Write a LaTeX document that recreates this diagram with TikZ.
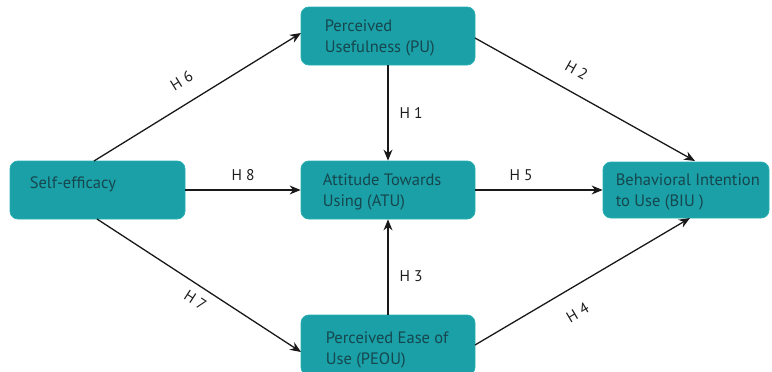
\documentclass[tikz,border=0pt]{standalone}
\usepackage{fontspec}
\setmainfont{PT Sans}
\usetikzlibrary{arrows.meta,calc}
\definecolor{boxfill}{RGB}{26,160,166}
\definecolor{boxline}{RGB}{40,175,180}
\definecolor{boxtext}{RGB}{22,70,78}
\definecolor{labtext}{RGB}{30,30,30}
\tikzset{
  box/.style={draw=boxline, line width=0.8pt, fill=boxfill, rounded corners=8pt, inner sep=0pt},
  txt/.style={anchor=west, align=left, text=boxtext, font=\fontsize{16.5}{21}\selectfont, inner sep=0pt},
  conn/.style={line width=1.3pt, draw=black!90, -{Stealth[length=11pt,width=9pt]}},
  hlab/.style={text=labtext, font=\fontsize{15.5}{17}\selectfont, inner sep=1pt}
}
\begin{document}
\begin{tikzpicture}[x=1pt,y=-1pt]
\useasboundingbox (0,0) rectangle (772,372);
% boxes
\node[box, minimum width=175, minimum height=58] (se) at (97.5,190) {};
\node[box, minimum width=174, minimum height=58] (pu) at (388,36) {};
\node[box, minimum width=174, minimum height=58] (atu) at (388,190) {};
\node[box, minimum width=166, minimum height=56] (biu) at (686,190) {};
\node[box, minimum width=174, minimum height=60] (peou) at (388,345) {};
% texts
\node[txt] (setext) at ($(se.west)+(20,-6)$) {Self-efficacy};
\node[txt] (putext) at ($(pu.west)+(24,2)$) {Perceived\\Usefulness (PU)};
\node[txt] (atutext) at ($(atu.west)+(22,2)$) {Attitude Towards\\Using (ATU)};
\node[txt] (biutext) at ($(biu.west)+(13,2)$) {Behavioral Intention\\to Use (BIU )};
\node[txt] (peoutext) at ($(peou.west)+(25,5)$) {Perceived Ease of\\Use (PEOU)};
% coordinates
\coordinate (se1) at (94,161);
\coordinate (se2) at (97,219);
\coordinate (pu1) at (301,33);
\coordinate (pu2) at (475,38);
\coordinate (biu1) at (695,161);
\coordinate (biu2) at (690,218);
\coordinate (peou1) at (301,352);
\coordinate (peou2) at (475,345);
% connectors
\draw[conn] (se1) -- (pu1) node[hlab, pos=0.48, above=15pt, sloped] (h6) {H 6};
\draw[conn] (se.east) -- (atu.west) node[hlab, midway, above=8pt] (h8) {H 8};
\draw[conn] (se2) -- (peou1) node[hlab, pos=0.52, below=7pt, sloped] (h7) {H 7};
\draw[conn] (pu.south) -- (atu.north) node[hlab, midway, right=10pt] (h1) {H 1};
\draw[conn] (peou.north) -- (atu.south) node[hlab, pos=0.4, right=10pt] (h3) {H 3};
\draw[conn] (atu.east) -- (biu.west) node[hlab, pos=0.36, above=8pt] (h5) {H 5};
\draw[conn] (pu2) -- (biu1) node[hlab, pos=0.415, above=14pt, sloped] (h2) {H 2};
\draw[conn] (peou2) -- (biu2) node[hlab, pos=0.42, below=17pt, sloped] (h4) {H 4};
\end{tikzpicture}
\end{document}
